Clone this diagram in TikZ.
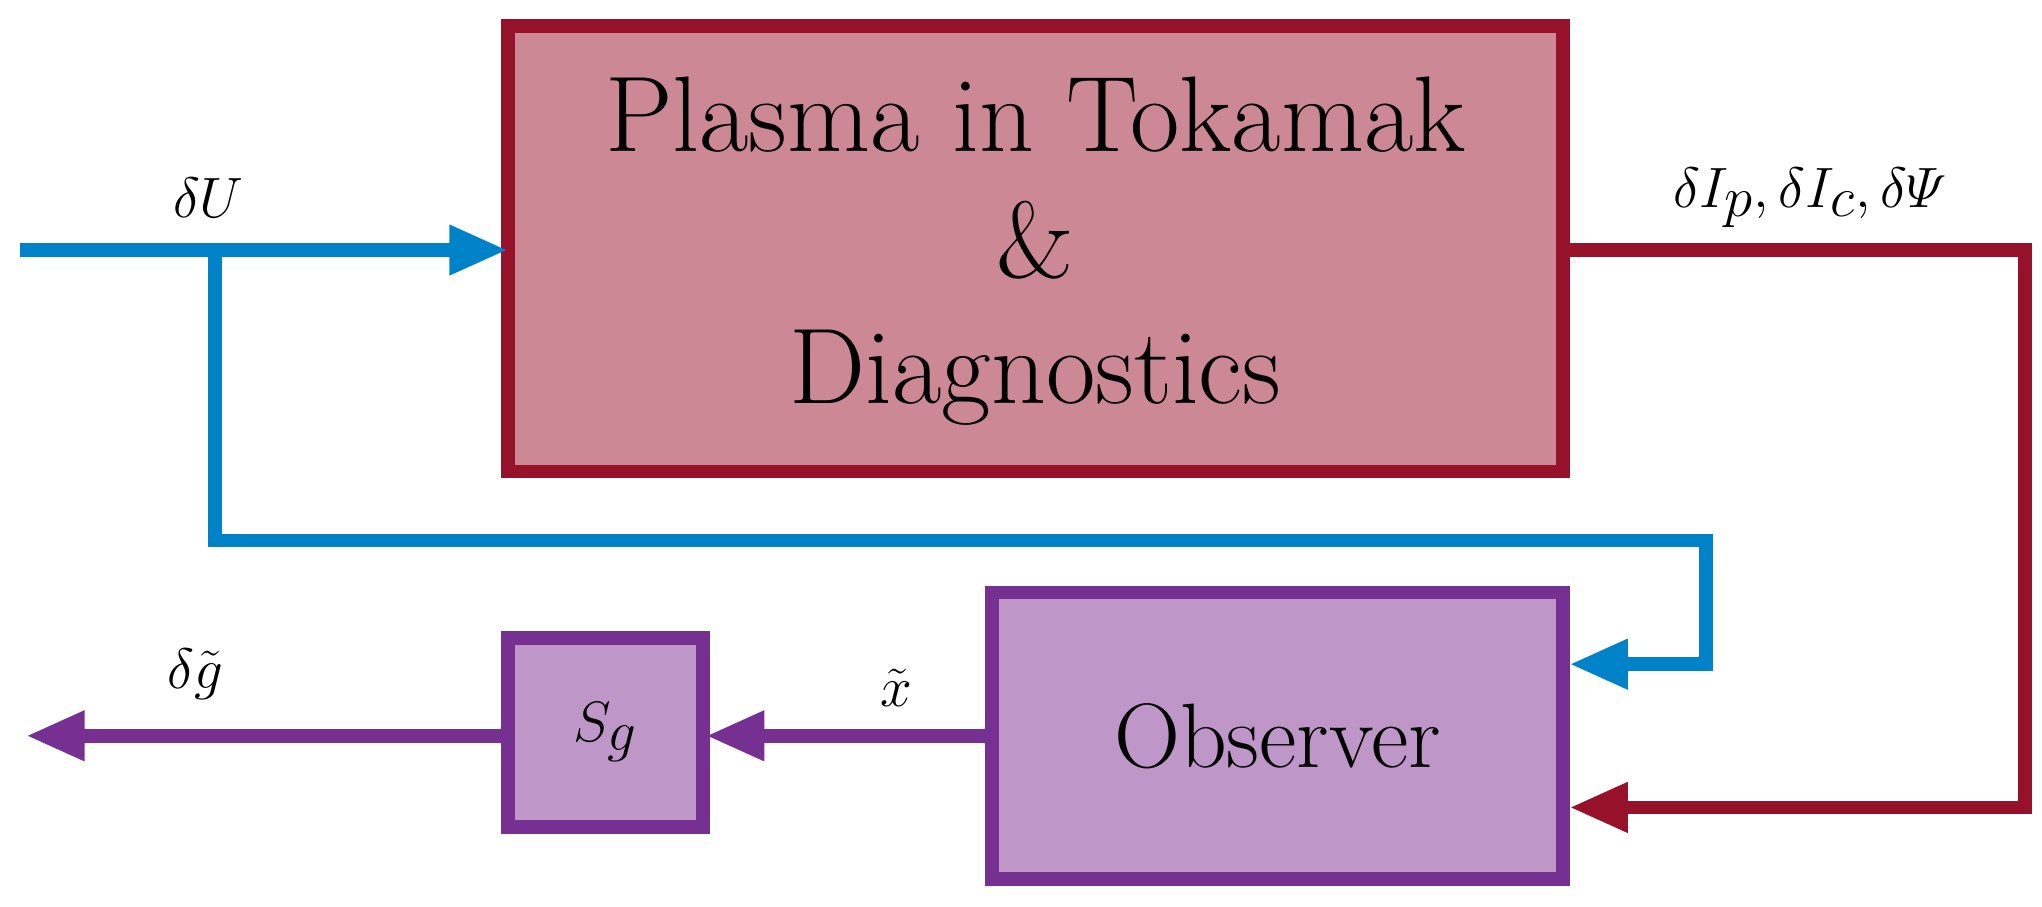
\documentclass[tikz,border=0pt]{standalone}
\usepackage{amsmath}
\usetikzlibrary{arrows.meta}
\definecolor{pfill}{RGB}{205,136,150}
\definecolor{pdraw}{RGB}{150,18,42}
\definecolor{ofill}{RGB}{190,150,200}
\definecolor{odraw}{RGB}{118,48,145}
\definecolor{cblue}{RGB}{0,130,200}
\begin{document}
\begin{tikzpicture}[x=0.02cm,y=-0.02cm,
  box/.style={draw, line width=6pt, inner sep=0pt},
  wire/.style={line width=6pt},
  tip/.style={-{Triangle[length=0.9cm,width=0.72cm]}},
  lbl/.style={font=\fontsize{40}{46}\selectfont}]
\useasboundingbox (0,0) rectangle (1568,696);
\path[box, draw=pdraw, fill=pfill] (390,20) rectangle (1200,362);
\node[align=center, font=\fontsize{47}{55}\selectfont] (ptext) at (795,193) {Plasma in Tokamak\\ \&\\ Diagnostics};
\coordinate (pin) at (390,192);
\coordinate (pout) at (1200,192);
\path[box, draw=odraw, fill=ofill] (762,455) rectangle (1200,675);
\node[font=\fontsize{40}{46}\selectfont] (obs) at (981,565) {Observer};
\coordinate (oin1) at (1205,510);
\coordinate (oin2) at (1205,620);
\coordinate (oout) at (762,565);
\path[box, draw=odraw, fill=ofill] (390,490) rectangle (540,635);
\node[lbl] (sg) at (465,562) {$S_g$};
\coordinate (sin) at (542,565);
\coordinate (sout) at (390,565);
\coordinate (start) at (15,192);
\coordinate (branch) at (165,192);
\coordinate (gend) at (20,565);
\draw[wire, cblue, tip] (start) -- (pin);
\draw[wire, cblue, tip] (branch) |- (1310,415) |- (oin1);
\draw[wire, pdraw, tip] (pout) -- (1555,192) |- (oin2);
\draw[wire, odraw, tip] (oout) -- (sin);
\draw[wire, odraw, tip] (sout) -- (gend);
\node[lbl] (lu) at (160,152) {$\delta U$};
\node[lbl] (li) at (1390,152) {$\delta I_p,\delta I_c,\delta\varPsi$};
\node[lbl] (lx) at (688,528) {$\tilde x$};
\node[lbl] (lg) at (150,518) {$\delta\tilde g$};
\end{tikzpicture}
\end{document}
